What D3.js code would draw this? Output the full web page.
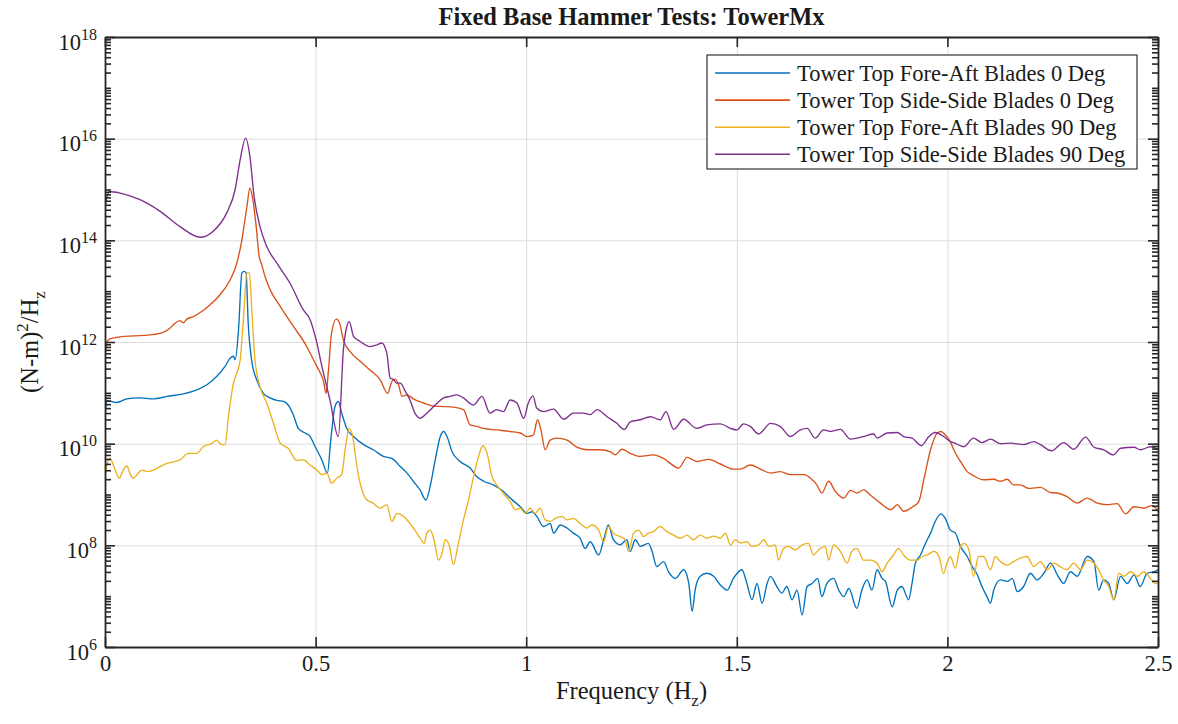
<!DOCTYPE html>
<html>
<head>
<meta charset="utf-8">
<script src="https://cdn.jsdelivr.net/npm/d3@7"></script>
<style>
  body { margin: 0; background: #fff; }
  svg text { font-family: "Liberation Serif", "Times New Roman", serif; fill: #1a1a1a; }
</style>
</head>
<body>
<svg id="chart" width="1178" height="724"></svg>
<script>
// Power spectral density of tower-top moment, fixed base hammer tests.
// Each series: [frequency (Hz), log10 of PSD in (N-m)^2/Hz]
const seriesNames = [
  "Tower Top Fore-Aft Blades 0 Deg",
  "Tower Top Side-Side Blades 0 Deg",
  "Tower Top Fore-Aft Blades 90 Deg",
  "Tower Top Side-Side Blades 90 Deg"
];
const seriesColors = ["#0072BD", "#D95319", "#EDB120", "#7E2F8E"];
const xTickValues = [0, 0.5, 1, 1.5, 2, 2.5];
const yTickExponents = [6, 8, 10, 12, 14, 16, 18];

const foreAft0 = [[0.000,10.53],[0.005,10.85],[0.016,10.83],[0.028,10.81],[0.052,10.88],[0.083,10.90],[0.115,10.88],[0.147,10.93],[0.186,10.98],[0.218,11.06],[0.242,11.16],[0.265,11.32],[0.285,11.52],[0.297,11.68],[0.305,11.72],[0.309,11.65],[0.317,12.24],[0.325,13.36],[0.330,13.39],[0.335,13.36],[0.340,12.37],[0.348,11.65],[0.360,11.26],[0.376,10.99],[0.392,10.90],[0.408,10.85],[0.424,10.83],[0.435,10.76],[0.447,10.57],[0.459,10.30],[0.475,10.21],[0.487,10.14],[0.499,9.94],[0.515,9.68],[0.528,9.42],[0.536,10.07],[0.546,10.73],[0.554,10.83],[0.562,10.60],[0.574,10.30],[0.590,10.14],[0.614,9.98],[0.637,9.88],[0.661,9.75],[0.681,9.71],[0.701,9.55],[0.717,9.42],[0.732,9.26],[0.748,9.09],[0.762,8.89],[0.772,9.16],[0.784,9.68],[0.796,10.14],[0.804,10.24],[0.812,10.14],[0.824,9.84],[0.843,9.65],[0.867,9.52],[0.883,9.35],[0.899,9.26],[0.922,9.19],[0.946,9.06],[0.962,8.93],[0.986,8.76],[1.002,8.63],[1.014,8.66],[1.025,8.57],[1.041,8.37],[1.057,8.43],[1.065,8.24],[1.081,8.40],[1.097,8.34],[1.112,8.24],[1.128,8.14],[1.140,7.94],[1.152,8.07],[1.172,7.81],[1.184,8.11],[1.195,8.40],[1.207,8.11],[1.223,8.01],[1.239,8.11],[1.247,7.88],[1.259,8.11],[1.271,7.98],[1.290,8.04],[1.299,7.88],[1.310,7.58],[1.326,7.68],[1.338,7.48],[1.354,7.35],[1.374,7.52],[1.386,7.25],[1.394,6.70],[1.401,7.12],[1.413,7.39],[1.429,7.45],[1.445,7.39],[1.461,7.22],[1.477,7.12],[1.492,7.35],[1.512,7.52],[1.524,7.25],[1.536,6.93],[1.548,7.25],[1.560,6.86],[1.572,7.25],[1.580,7.39],[1.595,7.19],[1.607,7.06],[1.619,7.19],[1.631,6.93],[1.643,7.12],[1.655,6.63],[1.667,7.19],[1.679,7.25],[1.692,7.35],[1.702,6.99],[1.714,7.25],[1.730,7.35],[1.742,7.12],[1.754,6.99],[1.766,7.15],[1.785,6.76],[1.797,7.12],[1.809,7.32],[1.821,7.12],[1.833,7.52],[1.845,7.35],[1.853,7.29],[1.869,6.79],[1.881,7.12],[1.892,7.19],[1.908,6.93],[1.916,7.25],[1.924,7.65],[1.936,7.81],[1.948,8.04],[1.960,8.24],[1.971,8.47],[1.985,8.62],[1.995,8.53],[2.007,8.30],[2.019,8.24],[2.031,7.98],[2.047,7.78],[2.059,7.58],[2.071,7.42],[2.082,7.19],[2.094,6.99],[2.102,6.86],[2.110,7.12],[2.126,7.32],[2.142,7.29],[2.154,7.35],[2.166,7.09],[2.181,7.19],[2.197,7.45],[2.213,7.32],[2.229,7.45],[2.245,7.65],[2.261,7.42],[2.276,7.25],[2.292,7.48],[2.308,7.39],[2.332,7.78],[2.348,7.68],[2.359,7.12],[2.371,7.32],[2.383,7.25],[2.395,6.93],[2.411,7.39],[2.427,7.25],[2.443,7.42],[2.458,7.19],[2.474,7.45],[2.490,7.48],[2.500,7.52]];

const sideSide0 = [[0.000,11.71],[0.005,12.01],[0.012,12.06],[0.036,12.10],[0.067,12.12],[0.107,12.14],[0.138,12.19],[0.154,12.27],[0.166,12.37],[0.178,12.42],[0.186,12.38],[0.194,12.45],[0.210,12.50],[0.226,12.58],[0.249,12.73],[0.273,12.93],[0.297,13.22],[0.313,13.55],[0.325,14.01],[0.337,14.67],[0.344,15.03],[0.351,14.80],[0.359,14.27],[0.366,13.68],[0.371,13.55],[0.380,13.29],[0.392,13.03],[0.416,12.70],[0.447,12.31],[0.479,11.91],[0.487,11.78],[0.503,11.52],[0.519,11.22],[0.525,10.99],[0.530,11.39],[0.538,12.18],[0.549,12.45],[0.557,12.37],[0.566,12.04],[0.582,11.81],[0.606,11.62],[0.629,11.45],[0.653,11.26],[0.671,10.99],[0.681,11.22],[0.689,11.27],[0.697,11.16],[0.705,10.93],[0.717,10.96],[0.732,10.88],[0.756,10.80],[0.780,10.74],[0.804,10.73],[0.827,10.72],[0.851,10.67],[0.867,10.37],[0.883,10.34],[0.899,10.30],[0.930,10.27],[0.962,10.24],[0.986,10.21],[1.002,10.14],[1.017,10.17],[1.027,10.47],[1.035,10.27],[1.045,9.88],[1.057,10.07],[1.073,10.11],[1.097,10.07],[1.120,9.93],[1.144,9.88],[1.176,9.88],[1.200,9.84],[1.211,9.78],[1.227,9.89],[1.247,9.81],[1.271,9.75],[1.302,9.78],[1.326,9.71],[1.362,9.52],[1.382,9.73],[1.405,9.65],[1.433,9.69],[1.461,9.60],[1.492,9.50],[1.508,9.50],[1.532,9.58],[1.556,9.50],[1.580,9.42],[1.603,9.45],[1.627,9.39],[1.659,9.39],[1.675,9.32],[1.690,9.19],[1.702,9.03],[1.718,9.26],[1.734,9.06],[1.754,8.93],[1.770,9.08],[1.785,9.03],[1.801,9.09],[1.817,8.99],[1.841,8.83],[1.866,8.70],[1.881,8.80],[1.896,8.67],[1.916,8.75],[1.932,8.86],[1.944,9.29],[1.960,9.88],[1.976,10.21],[1.985,10.24],[1.995,10.17],[2.007,10.04],[2.015,9.88],[2.031,9.65],[2.047,9.45],[2.062,9.37],[2.086,9.29],[2.110,9.30],[2.126,9.26],[2.142,9.30],[2.157,9.19],[2.173,9.19],[2.193,9.12],[2.221,9.14],[2.245,9.04],[2.261,9.03],[2.284,8.96],[2.308,8.83],[2.332,8.93],[2.356,8.83],[2.379,8.80],[2.403,8.82],[2.423,8.62],[2.443,8.76],[2.466,8.73],[2.486,8.78],[2.500,8.67]];

const foreAft90 = [[0.000,9.32],[0.005,9.61],[0.012,9.71],[0.021,9.55],[0.034,9.32],[0.043,9.48],[0.052,9.56],[0.059,9.42],[0.067,9.32],[0.079,9.42],[0.087,9.48],[0.103,9.45],[0.115,9.48],[0.131,9.55],[0.147,9.61],[0.178,9.68],[0.198,9.81],[0.218,9.81],[0.233,9.94],[0.253,10.00],[0.265,10.07],[0.277,9.98],[0.285,9.98],[0.293,10.53],[0.305,11.19],[0.313,11.39],[0.321,11.65],[0.329,12.50],[0.337,13.36],[0.343,13.36],[0.348,12.70],[0.356,11.65],[0.368,11.12],[0.384,10.80],[0.400,10.40],[0.416,10.01],[0.435,9.91],[0.455,9.67],[0.471,9.68],[0.487,9.58],[0.503,9.48],[0.515,9.39],[0.527,9.42],[0.538,9.22],[0.550,9.32],[0.562,9.39],[0.570,9.88],[0.580,10.30],[0.588,10.14],[0.598,9.55],[0.610,9.09],[0.622,8.89],[0.637,8.83],[0.653,8.73],[0.669,8.80],[0.681,8.47],[0.693,8.63],[0.709,8.57],[0.724,8.43],[0.736,8.30],[0.748,8.14],[0.758,8.04],[0.764,8.24],[0.772,8.30],[0.781,8.11],[0.792,7.71],[0.800,7.84],[0.808,8.11],[0.818,7.98],[0.827,7.62],[0.839,8.04],[0.851,8.50],[0.863,8.89],[0.875,9.35],[0.887,9.75],[0.897,9.96],[0.907,9.81],[0.919,9.35],[0.930,9.19],[0.946,9.02],[0.962,8.86],[0.974,8.70],[0.986,8.73],[0.998,8.63],[1.009,8.73],[1.021,8.63],[1.033,8.73],[1.045,8.50],[1.057,8.47],[1.069,8.53],[1.085,8.57],[1.097,8.50],[1.112,8.53],[1.128,8.43],[1.144,8.34],[1.156,8.40],[1.172,8.30],[1.184,8.07],[1.195,8.37],[1.207,8.24],[1.223,8.17],[1.235,8.11],[1.243,7.88],[1.255,8.24],[1.267,8.30],[1.279,8.17],[1.290,8.24],[1.302,8.27],[1.318,8.37],[1.334,8.27],[1.350,8.20],[1.366,8.14],[1.382,8.20],[1.397,8.11],[1.413,8.20],[1.429,8.14],[1.445,8.18],[1.461,8.14],[1.473,8.24],[1.485,8.00],[1.496,8.11],[1.508,8.05],[1.524,8.07],[1.536,7.98],[1.552,8.01],[1.564,8.11],[1.576,7.98],[1.591,8.01],[1.599,7.71],[1.611,7.94],[1.623,7.98],[1.639,7.91],[1.655,8.01],[1.670,8.04],[1.682,7.81],[1.694,7.91],[1.710,7.98],[1.718,7.71],[1.730,8.01],[1.746,7.88],[1.762,7.65],[1.773,7.88],[1.785,7.94],[1.801,7.71],[1.817,7.71],[1.833,7.65],[1.845,7.48],[1.857,7.65],[1.872,7.81],[1.884,7.94],[1.896,7.81],[1.912,7.71],[1.928,7.71],[1.940,7.78],[1.952,7.81],[1.968,7.88],[1.980,7.78],[1.991,7.45],[1.999,7.65],[2.007,7.78],[2.019,7.55],[2.031,7.98],[2.040,8.04],[2.051,7.91],[2.062,7.39],[2.074,7.78],[2.086,7.78],[2.102,7.52],[2.114,7.78],[2.126,7.68],[2.142,7.61],[2.157,7.68],[2.173,7.75],[2.189,7.78],[2.205,7.58],[2.221,7.68],[2.237,7.52],[2.253,7.65],[2.268,7.58],[2.284,7.52],[2.300,7.65],[2.316,7.52],[2.332,7.71],[2.348,7.65],[2.359,7.52],[2.371,7.32],[2.383,7.19],[2.395,6.93],[2.407,7.45],[2.419,7.39],[2.435,7.48],[2.451,7.39],[2.466,7.48],[2.482,7.35],[2.494,7.25],[2.500,7.25]];

const sideSide90 = [[0.000,14.66],[0.010,14.96],[0.036,14.93],[0.083,14.80],[0.131,14.57],[0.178,14.27],[0.226,14.06],[0.257,14.18],[0.289,14.54],[0.309,15.00],[0.321,15.59],[0.334,16.01],[0.344,15.65],[0.354,14.86],[0.368,14.27],[0.384,13.88],[0.408,13.55],[0.439,13.16],[0.471,12.63],[0.487,12.44],[0.501,12.05],[0.515,11.52],[0.534,10.86],[0.554,10.14],[0.566,11.85],[0.574,12.30],[0.580,12.40],[0.590,12.11],[0.606,12.01],[0.629,11.91],[0.645,11.94],[0.657,11.98],[0.669,11.78],[0.677,11.29],[0.685,11.26],[0.693,11.19],[0.701,11.19],[0.713,11.03],[0.724,10.86],[0.736,10.60],[0.748,10.50],[0.764,10.60],[0.784,10.76],[0.804,10.90],[0.819,10.93],[0.835,10.96],[0.851,10.90],[0.875,10.76],[0.895,10.93],[0.914,10.60],[0.930,10.67],[0.946,10.63],[0.962,10.86],[0.978,10.80],[0.994,10.50],[1.005,10.80],[1.016,10.94],[1.025,10.70],[1.041,10.63],[1.065,10.68],[1.089,10.48],[1.112,10.60],[1.136,10.60],[1.152,10.57],[1.168,10.67],[1.192,10.53],[1.215,10.40],[1.233,10.28],[1.247,10.43],[1.271,10.47],[1.295,10.53],[1.318,10.47],[1.332,10.63],[1.350,10.28],[1.374,10.48],[1.405,10.30],[1.429,10.37],[1.461,10.39],[1.485,10.30],[1.500,10.27],[1.516,10.39],[1.532,10.34],[1.552,10.19],[1.580,10.40],[1.603,10.34],[1.627,10.14],[1.651,10.27],[1.667,10.30],[1.686,10.11],[1.706,10.27],[1.722,10.24],[1.746,10.28],[1.770,10.09],[1.801,10.14],[1.825,10.19],[1.833,10.11],[1.857,10.21],[1.881,10.22],[1.896,10.14],[1.916,10.11],[1.938,9.96],[1.956,10.14],[1.971,10.22],[1.991,10.14],[2.007,10.04],[2.015,10.02],[2.039,9.94],[2.062,10.11],[2.082,10.02],[2.102,10.09],[2.126,10.00],[2.150,10.01],[2.181,9.98],[2.205,10.04],[2.221,9.98],[2.247,9.86],[2.276,10.02],[2.300,9.89],[2.328,10.13],[2.348,9.93],[2.371,9.88],[2.394,9.78],[2.411,9.91],[2.443,9.93],[2.458,9.88],[2.482,9.94],[2.500,9.89]];

const seriesData = [foreAft0, sideSide0, foreAft90, sideSide90];

// ---- layout ----
const svg = d3.select("#chart");
const plot = { left: 105, right: 1158, top: 37, bottom: 647 };
const axisColor = "#262626";

const x = d3.scaleLinear().domain([0, 2.5]).range([plot.left, plot.right]);
const y = d3.scaleLog().domain([1e6, 1e18]).range([plot.bottom, plot.top]);

const majorY = yTickExponents.map(e => Math.pow(10, e));
const minorY = [];
for (let e = 6; e < 18; e++) {
  for (let k = 1; k <= 9; k++) {
    const v = k * Math.pow(10, e);
    if (!majorY.includes(v)) minorY.push(v);
  }
}

// grid
const grid = svg.append("g");
grid.append("g")
  .attr("transform", `translate(0,${plot.bottom})`)
  .call(d3.axisBottom(x).tickValues(xTickValues.slice(1, -1))
    .tickSize(-(plot.bottom - plot.top)).tickSizeOuter(0).tickFormat(""))
  .call(g => g.select(".domain").remove());
grid.append("g")
  .attr("transform", `translate(${plot.left},0)`)
  .call(d3.axisLeft(y).tickValues(majorY.slice(1, -1))
    .tickSize(-(plot.right - plot.left)).tickSizeOuter(0).tickFormat(""))
  .call(g => g.select(".domain").remove());
grid.selectAll("line").attr("stroke", "#dcdcdc").attr("stroke-width", 1);

// series
svg.append("clipPath").attr("id", "plotClip")
  .append("rect")
  .attr("x", plot.left).attr("y", plot.top)
  .attr("width", plot.right - plot.left).attr("height", plot.bottom - plot.top);

const line = d3.line()
  .curve(d3.curveMonotoneX)
  .x(d => x(d[0]))
  .y(d => y(Math.pow(10, d[1])));

const lines = svg.append("g").attr("clip-path", "url(#plotClip)");
seriesData.forEach((data, i) => {
  lines.append("path")
    .datum(data)
    .attr("fill", "none")
    .attr("stroke", seriesColors[i])
    .attr("stroke-width", 1.35)
    .attr("stroke-linejoin", "round")
    .attr("d", line);
});

// axes (ticks point inward)
function styleAxis(g) {
  g.selectAll("line, path").attr("stroke", axisColor);
  g.select(".domain").attr("stroke-width", 1.8);
  g.selectAll(".tick line").attr("stroke-width", 1.6);
}

const xBottom = svg.append("g")
  .attr("transform", `translate(0,${plot.bottom})`)
  .call(d3.axisBottom(x).tickValues(xTickValues).tickSize(-10).tickSizeOuter(0)
    .tickPadding(10).tickFormat(d3.format("")))
  .call(styleAxis);
xBottom.selectAll("text")
  .attr("font-size", 22.5)
  .attr("dy", null)
  .attr("y", 24)
  .attr("fill", "#1a1a1a");

svg.append("g")
  .attr("transform", `translate(0,${plot.top})`)
  .call(d3.axisTop(x).tickValues(xTickValues).tickSize(-10).tickSizeOuter(0).tickFormat(""))
  .call(styleAxis);

const yLeft = svg.append("g")
  .attr("transform", `translate(${plot.left},0)`)
  .call(d3.axisLeft(y).tickValues(majorY).tickSize(-10).tickSizeOuter(0).tickPadding(8))
  .call(styleAxis);
yLeft.selectAll(".tick text")
  .attr("font-size", 22.5)
  .attr("fill", "#1a1a1a")
  .attr("dy", null)
  .attr("y", 12)
  .attr("x", -8)
  .each(function (d) {
    const t = d3.select(this);
    t.text("10");
    t.append("tspan")
      .attr("dy", -10)
      .attr("font-size", 16)
      .text(Math.round(Math.log10(d)));
  });

svg.append("g")
  .attr("transform", `translate(${plot.left},0)`)
  .call(d3.axisLeft(y).tickValues(minorY).tickSize(-6).tickSizeOuter(0).tickFormat(""))
  .call(g => g.select(".domain").remove())
  .call(styleAxis);

svg.append("g")
  .attr("transform", `translate(${plot.right},0)`)
  .call(d3.axisRight(y).tickValues(majorY).tickSize(-10).tickSizeOuter(0).tickFormat(""))
  .call(styleAxis);
svg.append("g")
  .attr("transform", `translate(${plot.right},0)`)
  .call(d3.axisRight(y).tickValues(minorY).tickSize(-6).tickSizeOuter(0).tickFormat(""))
  .call(g => g.select(".domain").remove())
  .call(styleAxis);

// title and axis labels
const midX = (plot.left + plot.right) / 2;
svg.append("text")
  .attr("x", midX).attr("y", 25)
  .attr("text-anchor", "middle")
  .attr("font-size", 24.5)
  .attr("font-weight", "bold")
  .attr("fill", "#000")
  .text("Fixed Base Hammer Tests: TowerMx");

const xLabel = svg.append("text")
  .attr("x", midX).attr("y", 699)
  .attr("text-anchor", "middle")
  .attr("font-size", 24.5);
xLabel.append("tspan").text("Frequency (H");
xLabel.append("tspan").attr("dy", 7).attr("font-size", 17).text("z");
xLabel.append("tspan").attr("dy", -7).text(")");

const yLabel = svg.append("text")
  .attr("transform", `translate(38,${(plot.top + plot.bottom) / 2}) rotate(-90)`)
  .attr("text-anchor", "middle")
  .attr("font-size", 24.5);
yLabel.append("tspan").text("(N-m)");
yLabel.append("tspan").attr("dy", -10).attr("font-size", 17).text("2");
yLabel.append("tspan").attr("dy", 10).text("/H");
yLabel.append("tspan").attr("dy", 7).attr("font-size", 17).text("z");

// legend
const legend = svg.append("g");
const lg = { x: 707, y: 55, w: 430, h: 114, row0: 73, rowGap: 27.1 };
legend.append("rect")
  .attr("x", lg.x).attr("y", lg.y)
  .attr("width", lg.w).attr("height", lg.h)
  .attr("fill", "#fff").attr("stroke", "#333").attr("stroke-width", 1.2);
seriesNames.forEach((name, i) => {
  const ry = lg.row0 + i * lg.rowGap;
  legend.append("line")
    .attr("x1", 715).attr("x2", 790)
    .attr("y1", ry).attr("y2", ry)
    .attr("stroke", seriesColors[i]).attr("stroke-width", 1.6);
  legend.append("text")
    .attr("x", 797).attr("y", ry + 7.5)
    .attr("font-size", 22.5)
    .text(name);
});
</script>
</body>
</html>
